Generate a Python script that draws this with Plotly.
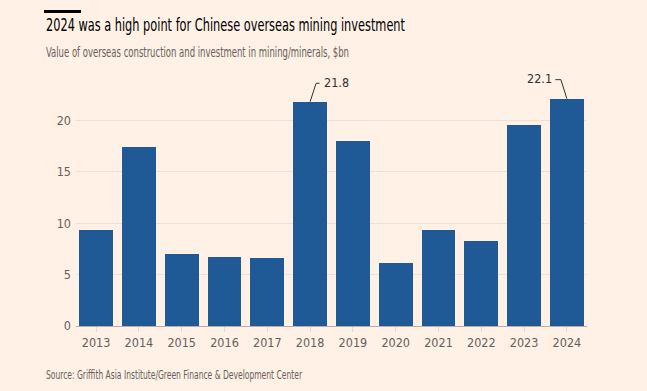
import json
import plotly.graph_objects as go

years = ["2013","2014","2015","2016","2017","2018","2019","2020","2021","2022","2023","2024"]
values = [9.3, 17.4, 7.0, 6.7, 6.6, 21.8, 18.0, 6.1, 9.3, 8.3, 19.5, 22.1]
y_ticks = [0, 5, 10, 15, 20]
labelled = {"2018": "right", "2024": "left"}

TITLE = "2024 was a high point for Chinese overseas mining investment"
SUBTITLE = "Value of overseas construction and investment in mining/minerals, $bn"
SOURCE = "Source: Griffith Asia Institute/Green Finance & Development Center"

BG = "#FFF1E5"
BAR = "#1F5A96"
FONT = "'DejaVu Sans Condensed', 'DejaVu Sans', sans-serif"

xs = list(range(len(years)))
fig = go.Figure()
fig.add_trace(go.Bar(x=xs, y=values, width=0.79, marker=dict(color=BAR, line=dict(width=0)),
                     hoverinfo="skip"))

for yr, side in labelled.items():
    i = years.index(yr)
    v = values[i]
    if side == "right":
        lx = [i, i + 0.14, i + 0.22]
        ly = [v, v + 1.8, v + 1.8]
        anchor = "left"
    else:
        lx = [i, i - 0.14, i - 0.27]
        ly = [v, v + 1.85, v + 1.85]
        anchor = "right"
    fig.add_trace(go.Scatter(x=lx, y=ly, mode="lines", line=dict(color="#33302E", width=1),
                             cliponaxis=False, hoverinfo="skip"))
    fig.add_annotation(x=lx[-1], y=ly[-1], text=f"{v}", showarrow=False, xanchor=anchor,
                       xshift=2 if side == "right" else -1, yshift=1,
                       font=dict(family=FONT, size=12.5, color="#33302E"))

fig.update_layout(
    width=647, height=391, paper_bgcolor=BG, plot_bgcolor=BG, showlegend=False,
    margin=dict(l=76, r=60, t=74, b=65, autoexpand=False), bargap=0,
    font=dict(family=FONT, color="#66605C"),
    xaxis=dict(range=[-0.47, 11.47], tickvals=xs, ticktext=years, showgrid=False, automargin=False,
               ticks="outside", ticklen=5, tickcolor="#E6D9CE", tickfont=dict(size=12.5, color="#66605C"),
               showline=True, linecolor="#B8AEA6", linewidth=1, zeroline=False),
    yaxis=dict(range=[0, 24.5], tickvals=y_ticks, showgrid=True, gridcolor="#EDE0D4", gridwidth=1,
               zeroline=False, showline=False, ticks="", ticklabelstandoff=4, automargin=False,
               tickfont=dict(size=12.5, color="#66605C")),
)

fig.add_shape(type="rect", xref="paper", yref="paper", x0=-32/511, x1=5/511,
              y0=1 + (74 - 13) / 252, y1=1 + (74 - 10) / 252, fillcolor="#000000", line=dict(width=0))
fig.add_annotation(xref="paper", yref="paper", x=-32/511, y=1 + (74 - 24) / 252, xanchor="left", yanchor="middle",
                   text=TITLE, showarrow=False, font=dict(family=FONT, size=18, color="#000000"))
fig.add_annotation(xref="paper", yref="paper", x=-32/511, y=1 + (74 - 52) / 252, xanchor="left", yanchor="middle",
                   text=SUBTITLE, showarrow=False, font=dict(family=FONT, size=13.5, color="#66605C"))
fig.add_annotation(xref="paper", yref="paper", x=-32/511, y=-(375 - 326) / 252, xanchor="left", yanchor="middle",
                   text=SOURCE, showarrow=False, font=dict(family=FONT, size=12, color="#66605C"))

widths = {TITLE: 359, SUBTITLE: 303, SOURCE: 256}
post = """
document.body.style.margin='0';
document.body.style.background='#FFF1E5';
var W = %s;
document.querySelectorAll('text.annotation-text').forEach(function(t){
  var w = W[t.textContent];
  if (w) {
    var bb = t.getBBox();
    t.setAttribute('text-anchor', 'start');
    t.style.textAnchor = 'start';
    t.setAttribute('x', bb.x);
    t.setAttribute('textLength', w);
    t.setAttribute('lengthAdjust', 'spacingAndGlyphs');
  }
});
""" % json.dumps(widths)

fig.write_html("out.html", config={"displayModeBar": False}, post_script=post)
